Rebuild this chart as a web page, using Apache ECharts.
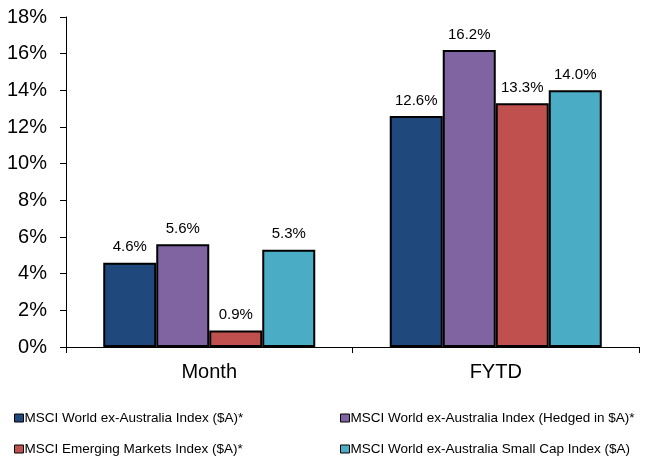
<!DOCTYPE html>
<html>
<head>
<meta charset="utf-8">
<script src="https://cdn.jsdelivr.net/npm/echarts@6/dist/echarts.min.js"></script>
<style>
  html, body { margin: 0; padding: 0; background: #fff; }
  #chart { width: 648px; height: 457px; }
</style>
</head>
<body>
<div id="chart"></div>
<script>
var categories = ['Month', 'FYTD'];
var seriesNames = [
    'MSCI World ex-Australia Index ($A)*',
    'MSCI World ex-Australia Index (Hedged in $A)*',
    'MSCI Emerging Markets Index ($A)*',
    'MSCI World ex-Australia Small Cap Index ($A)'
];
var worldIndex = [4.6, 12.6];
var worldHedged = [5.6, 16.2];
var emerging = [0.9, 13.3];
var smallCap = [5.3, 14.0];
var colors = ['#1f497d', '#8064a2', '#c0504d', '#4bacc6'];

var chart = echarts.init(document.getElementById('chart'));
var font = 'Liberation Sans, Arial, sans-serif';

function makeSeries(name, data, color) {
    return {
        name: name,
        type: 'bar',
        data: data,
        barGap: '0%',
        barCategoryGap: '26%',
        itemStyle: { color: color, borderColor: '#000', borderWidth: 2 },
        label: {
            show: true,
            position: 'top',
            distance: 8,
            fontFamily: font,
            fontSize: 15,
            color: '#000',
            formatter: function (p) { return p.value.toFixed(1) + '%'; }
        }
    };
}

// one legend per entry, laid out in two columns like the original
function makeLegend(name, left, top) {
    return {
        left: left,
        top: top,
        data: [name],
        itemWidth: 9,
        itemHeight: 8,
        icon: 'rect',
        textStyle: { fontFamily: font, fontSize: 13.5, color: '#000', padding: [0, 0, 0, -4] },
        itemStyle: { borderColor: '#000', borderWidth: 1 }
    };
}

var option = {
    animation: false,
    grid: { left: 66, right: 9, top: 17, bottom: 110 },
    legend: [
        makeLegend(seriesNames[0], 9, 406),
        makeLegend(seriesNames[1], 335, 406),
        makeLegend(seriesNames[2], 9, 437),
        makeLegend(seriesNames[3], 335, 437)
    ],
    xAxis: {
        type: 'category',
        data: categories,
        axisLine: { lineStyle: { color: '#000', width: 1 } },
        axisTick: { show: true, length: 6, lineStyle: { color: '#000' } },
        axisLabel: { fontFamily: font, fontSize: 20, color: '#000', margin: 15 }
    },
    yAxis: {
        type: 'value',
        min: 0,
        max: 18,
        interval: 2,
        axisLine: { show: true, lineStyle: { color: '#000', width: 1 } },
        axisTick: { show: true, length: 6, lineStyle: { color: '#000' } },
        splitLine: { show: false },
        axisLabel: { fontFamily: font, fontSize: 20, color: '#000', margin: 19, formatter: '{value}%' }
    },
    series: [
        makeSeries(seriesNames[0], worldIndex, colors[0]),
        makeSeries(seriesNames[1], worldHedged, colors[1]),
        makeSeries(seriesNames[2], emerging, colors[2]),
        makeSeries(seriesNames[3], smallCap, colors[3])
    ]
};

chart.setOption(option);
window.onresize = chart.resize;
</script>
</body>
</html>
